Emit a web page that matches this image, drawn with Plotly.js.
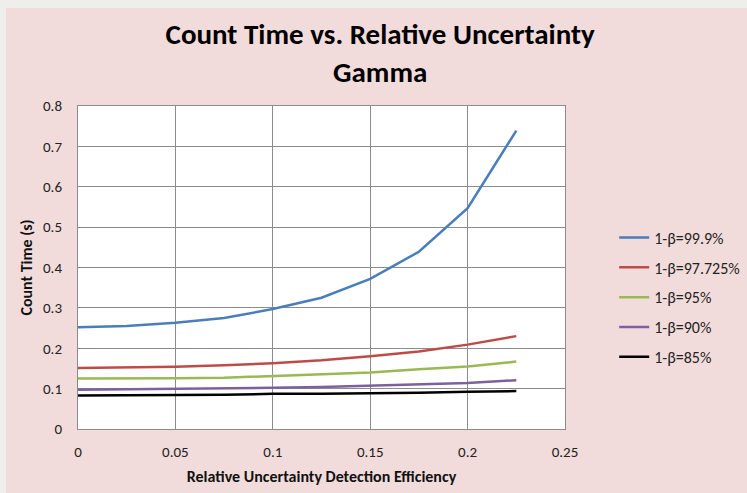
<!DOCTYPE html>
<html>
<head>
<meta charset="utf-8">
<script src="https://cdn.plot.ly/plotly-3.0.1.min.js"></script>
<style>html,body{margin:0;padding:0;background:#EEEEEA;}#chart{position:absolute;left:6px;top:8px;width:741px;height:485px;}</style>
</head>
<body>
<div id="chart"></div>
<script>
const xValues = [0, 0.025, 0.05, 0.075, 0.1, 0.125, 0.15, 0.175, 0.2, 0.225];
const seriesNames = ["1-β=99.9%", "1-β=97.725%", "1-β=95%", "1-β=90%", "1-β=85%"];
const beta999 = [0.252, 0.255, 0.263, 0.275, 0.297, 0.325, 0.372, 0.439, 0.547, 0.739];
const beta97725 = [0.151, 0.152, 0.154, 0.158, 0.163, 0.170, 0.180, 0.192, 0.209, 0.230];
const beta95 = [0.125, 0.125, 0.126, 0.127, 0.131, 0.135, 0.140, 0.148, 0.155, 0.167];
const beta90 = [0.097, 0.098, 0.099, 0.101, 0.102, 0.104, 0.107, 0.111, 0.114, 0.121];
const beta85 = [0.083, 0.083, 0.084, 0.085, 0.087, 0.087, 0.088, 0.090, 0.092, 0.094];
const seriesColors = ["#4A7EBB", "#BE4B48", "#98B954", "#7D60A0", "#000000"];
const allSeries = [beta999, beta97725, beta95, beta90, beta85];

const traces = allSeries.map((ys, i) => ({
  x: xValues, y: ys, name: seriesNames[i], type: "scatter", mode: "lines",
  legendgroup: "g" + i,
  line: {color: seriesColors[i], width: 2.5}
}));

const font = "Calibri, Carlito, 'Open Sans', 'Liberation Sans', sans-serif";
const layout = {
  width: 741, height: 485,
  paper_bgcolor: "#F2DCDB", plot_bgcolor: "#FFFFFF",
  margin: {l: 72, r: 182, t: 98, b: 64, autoexpand: false},
  font: {family: font, size: 15, color: "#222"},
  title: {text: "<b>Count Time vs. Relative Uncertainty<br>Gamma</b>", x: 0.505, xanchor: "center", y: 0.926, yanchor: "middle",
          font: {family: font, size: 29, color: "#000"}},
  xaxis: {range: [0, 0.25], dtick: 0.05, tick0: 0, showgrid: true, gridcolor: "#8C8C8C", gridwidth: 1,
          zeroline: false, showline: true, linecolor: "#8C8C8C", mirror: true, ticks: "", ticklabelstandoff: 9,
          tickfont: {size: 15, color: "#222"},
          title: {text: "<b>Relative Uncertainty Detection Efficiency</b>", font: {size: 16, color: "#111"}, standoff: 10}},
  yaxis: {range: [0, 0.8], dtick: 0.1, tick0: 0, showgrid: true, gridcolor: "#8C8C8C", gridwidth: 1,
          zeroline: false, showline: true, linecolor: "#8C8C8C", mirror: true, ticks: "", ticklabelstandoff: 12,
          tickfont: {size: 15, color: "#222"},
          title: {text: "<b>Count Time (s)</b>", font: {size: 16, color: "#111"}, standoff: 6}},
  legend: {x: 1.101, xanchor: "left", y: 0.645, yanchor: "top", bgcolor: "rgba(0,0,0,0)",
           font: {size: 16, color: "#222"}, tracegroupgap: 6, itemwidth: 30, traceorder: "grouped"},
  showlegend: true
};
Plotly.newPlot("chart", traces, layout, {displayModeBar: false, staticPlot: true});
</script>
</body>
</html>
